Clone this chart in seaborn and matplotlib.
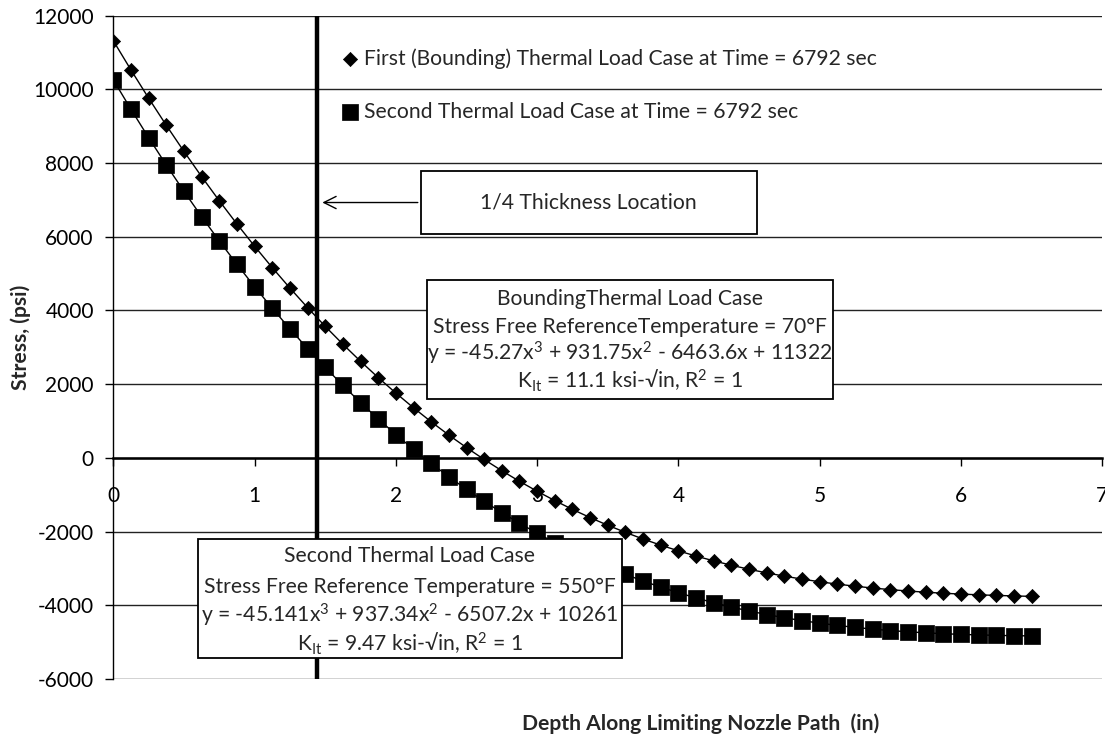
import matplotlib
matplotlib.use("Agg")
import matplotlib.pyplot as plt
from matplotlib.patches import Rectangle
import seaborn as sns
import pandas as pd

# Depth along the limiting nozzle path (in), 0.125 in increments
depth = [0.0, 0.125, 0.25, 0.375, 0.5, 0.625, 0.75, 0.875, 1.0, 1.125, 1.25, 1.375,
         1.5, 1.625, 1.75, 1.875, 2.0, 2.125, 2.25, 2.375, 2.5, 2.625, 2.75, 2.875,
         3.0, 3.125, 3.25, 3.375, 3.5, 3.625, 3.75, 3.875, 4.0, 4.125, 4.25, 4.375,
         4.5, 4.625, 4.75, 4.875, 5.0, 5.125, 5.25, 5.375, 5.5, 5.625, 5.75, 5.875,
         6.0, 6.125, 6.25, 6.375, 6.5]

# Stress (psi), first (bounding) thermal load case
stress_first = [11322, 10529, 9764, 9027, 8318, 7635, 6979, 6349, 5745, 5165, 4610, 4079,
                3570, 3085, 2622, 2180, 1760, 1360, 980, 620, 279, -43, -348, -635,
                -905, -1159, -1397, -1620, -1828, -2021, -2201, -2368, -2522, -2664, -2794, -2913,
                -3022, -3120, -3209, -3289, -3361, -3425, -3481, -3531, -3574, -3612, -3644, -3672,
                -3695, -3715, -3731, -3745, -3757]

# Stress (psi), second thermal load case
stress_second = [10261, 9462, 8692, 7950, 7236, 6549, 5889, 5255, 4646, 4062, 3503, 2968,
                 2457, 1968, 1502, 1058, 635, 233, -149, -511, -854, -1178, -1484, -1772,
                 -2043, -2298, -2536, -2759, -2967, -3161, -3340, -3506, -3659, -3800, -3929, -4047,
                 -4154, -4250, -4337, -4415, -4484, -4545, -4599, -4645, -4685, -4718, -4746, -4770,
                 -4789, -4803, -4815, -4824, -4830]

series_labels = ["First (Bounding) Thermal Load Case at Time = 6792 sec",
                 "Second Thermal Load Case at Time = 6792 sec"]

x_ticks = [0, 1, 2, 3, 4, 5, 6, 7]
y_ticks = [-6000, -4000, -2000, 0, 2000, 4000, 6000, 8000, 10000, 12000]

quarter_thickness = 1.44

first_box_lines = ["BoundingThermal Load Case",
                   "Stress Free ReferenceTemperature = 70°F",
                   r"y = -45.27x$^{3}$ + 931.75x$^{2}$ - 6463.6x + 11322",
                   r"K$_{\mathrm{It}}$ = 11.1 ksi-√in, R$^{2}$ = 1"]
second_box_lines = ["Second Thermal Load Case",
                    "Stress Free Reference Temperature = 550°F",
                    r"y = -45.141x$^{3}$ + 937.34x$^{2}$ - 6507.2x + 10261",
                    r"K$_{\mathrm{It}}$ = 9.47 ksi-√in, R$^{2}$ = 1"]

sns.set_theme(style="white")
plt.rcParams["font.family"] = ["Lato", "DejaVu Sans"]
plt.rcParams["mathtext.fontset"] = "custom"
plt.rcParams["mathtext.rm"] = "Lato"
plt.rcParams["mathtext.it"] = "Lato:italic"
plt.rcParams["mathtext.bf"] = "Lato:bold"
plt.rcParams["mathtext.default"] = "regular"
plt.rcParams["axes.unicode_minus"] = False

FS = 15.2
TICK_FS = 15

df = pd.DataFrame({"depth": depth + depth,
                   "stress": stress_first + stress_second,
                   "case": [series_labels[0]] * len(depth) + [series_labels[1]] * len(depth)})
df_first = df[df["case"] == series_labels[0]]
df_second = df[df["case"] == series_labels[1]]

fig = plt.figure(figsize=(11.05, 7.43), dpi=100)
ax = fig.add_axes([0.1025, 0.0861, 0.8951, 0.8928])

# connecting lines
sns.lineplot(data=df, x="depth", y="stress", units="case", estimator=None,
             color="black", linewidth=1.0, legend=False, ax=ax, zorder=3)
# markers
sns.scatterplot(data=df_first, x="depth", y="stress", marker="D", s=52,
                color="black", edgecolor="black", linewidth=0.5,
                label=series_labels[0], ax=ax, zorder=4)
sns.scatterplot(data=df_second, x="depth", y="stress", marker="s", s=118,
                color="black", edgecolor="black", linewidth=0.5,
                label=series_labels[1], ax=ax, zorder=4)

ax.set_xlim(0, 7)
ax.set_ylim(-6000, 12000)

for side in ["top", "right"]:
    ax.spines[side].set_visible(False)
ax.spines["left"].set_color("black")
ax.spines["left"].set_linewidth(1.0)
ax.spines["bottom"].set_position(("data", 0))
ax.spines["bottom"].set_color("black")
ax.spines["bottom"].set_linewidth(1.8)

ax.set_xticks(x_ticks)
ax.set_yticks(y_ticks)
ax.set_xticklabels([str(v) for v in x_ticks])
ax.set_yticklabels([str(v) for v in y_ticks])

ax.grid(axis="y", color="#222222", linewidth=1.0)
ax.grid(axis="x", visible=False)
ax.set_axisbelow(True)

ax.tick_params(axis="y", direction="out", length=6, width=1.0, color="black",
               left=True, pad=8, labelcolor="black", labelsize=TICK_FS)
ax.tick_params(axis="x", direction="out", length=6, width=1.0, color="black",
               bottom=True, pad=14, labelcolor="black", labelsize=TICK_FS)

ax.set_xlabel("Depth Along Limiting Nozzle Path  (in)", fontsize=FS, fontweight="bold")
ax.set_ylabel("Stress, (psi)", fontsize=FS, fontweight="bold")
ax.xaxis.set_label_coords(0.594, -0.052)
ax.yaxis.set_label_coords(-0.083, 0.515)

# 1/4 thickness marker line
ax.axvline(quarter_thickness, color="black", linewidth=3.2, zorder=2)

# 1/4 thickness callout
ax.add_patch(Rectangle((2.175, 6067), 4.553 - 2.175, 7787 - 6067, facecolor="white",
                       edgecolor="black", linewidth=1.3, zorder=6))
ax.text((2.175 + 4.553) / 2, 6927, "1/4 Thickness Location", ha="center", va="center",
        fontsize=FS, zorder=7)
ax.annotate("", xy=(quarter_thickness + 0.02, 6930), xytext=(2.175, 6930),
            arrowprops=dict(arrowstyle="->", color="black", linewidth=1.0,
                            mutation_scale=22), zorder=6)

# bounding case callout
ax.add_patch(Rectangle((2.218, 1603), 5.093 - 2.218, 4817 - 1603, facecolor="white",
                       edgecolor="black", linewidth=1.3, zorder=6))
for yy, line in zip([4320, 3548, 2826, 2100], first_box_lines):
    ax.text(3.656, yy, line, ha="center", va="center", fontsize=FS, zorder=7)

# second case callout
ax.add_patch(Rectangle((0.602, -5434), 3.598 - 0.602, -2201 + 5434, facecolor="white",
                       edgecolor="black", linewidth=1.3, zorder=6))
for yy, line in zip([-2655, -3516, -4285, -5054], second_box_lines):
    ax.text(2.100, yy, line, ha="center", va="center", fontsize=FS, zorder=7)

ax.legend(loc="upper left", bbox_to_anchor=(0.2308, 0.951), frameon=False,
          fontsize=FS, handlelength=0.8, handletextpad=0.26, borderpad=0,
          borderaxespad=0, labelspacing=1.56)

fig.savefig("out.png", dpi=100, facecolor="white")
